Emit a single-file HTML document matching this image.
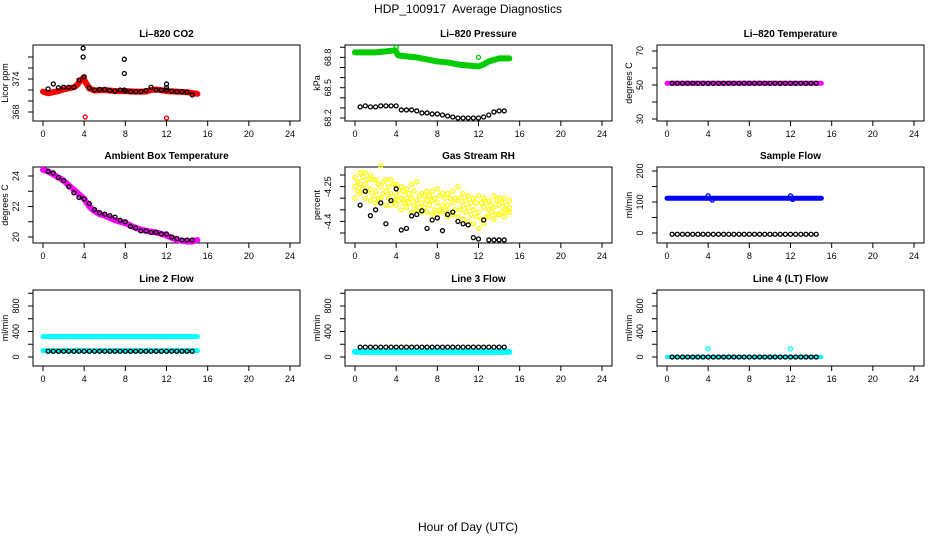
<!DOCTYPE html>
<html><head><meta charset="utf-8"><style>
body{margin:0;background:#fff}
svg{display:block;font-family:"Liberation Sans",sans-serif}
</style></head><body>
<svg id="c" width="936" height="540" viewBox="0 0 936 540">
<text x="468" y="13" text-anchor="middle" font-size="12" xml:space="preserve" style="white-space:pre">HDP_100917  Average Diagnostics</text>
<text x="468" y="531" text-anchor="middle" font-size="12">Hour of Day (UTC)</text>
</svg>
<script>
const xTicks=[0,4,8,12,16,20,24];
const blkHours=[0.5,1,1.5,2,2.5,3,3.5,4,4.5,5,5.5,6,6.5,7,7.5,8,8.5,9,9.5,10,10.5,11,11.5,12,12.5,13,13.5,14,14.5];
// CO2
const co2LineH=[0,0.5,1,1.5,2,2.5,3,3.3,3.6,3.9,4.2,4.5,5,6,7,8,9,10,10.5,11,12,13,14,15];
const co2LineV=[371.7,371.4,371.6,371.8,372.1,372.3,372.5,372.9,373.6,374.2,373.2,372.3,371.9,372.0,371.8,371.8,371.7,371.7,372.0,372.1,371.8,371.7,371.6,371.3];
const co2Blk=[372.2,373.1,372.4,372.5,372.5,372.5,373.8,374.4,372.4,372.0,372.1,372.1,371.9,371.8,372.0,371.8,371.7,371.7,371.7,371.9,372.5,372.0,372.0,372.0,371.8,371.7,371.7,371.6,371.1];
const co2OutH=[3.9,3.9,7.9,7.9,7.9,12,12];
const co2OutV=[379.6,378.0,377.6,375.0,372.0,373.1,372.4];
const co2RedOutH=[4.1,12.0];
const co2RedOutV=[367.1,366.9];
// Pressure
const pLineH=[0,1,2,3,3.9,4.2,5,6,7,8,9,10,11,12,12.5,13,14,15];
const pLineV=[68.85,68.85,68.85,68.86,68.87,68.82,68.81,68.80,68.78,68.76,68.75,68.73,68.72,68.71,68.73,68.76,68.79,68.79];
const pOutH=[4.0,12.0];const pOutV=[68.90,68.80];
const pBlk=[68.31,68.32,68.31,68.31,68.32,68.32,68.32,68.32,68.28,68.28,68.28,68.27,68.25,68.25,68.24,68.24,68.23,68.22,68.21,68.20,68.20,68.20,68.20,68.20,68.21,68.23,68.26,68.27,68.27];
// Li-820 temperature
const tLineH=[0,15];const tLineV=[51,51];
const tBlk=[51,51,51,51,51,51,51,51,51,51,51,51,51,51,51,51,51,51,51,51,51,51,51,51,51,51,51,51,51];
// Ambient
const aLineH=[0,0.5,1,2,3,4,4.5,5,5.5,6,7,8,9,10,11,12,13,14,14.5,15];
const aLineV=[24.4,24.3,24.1,23.7,23.1,22.5,22.0,21.7,21.5,21.4,21.1,20.9,20.6,20.4,20.3,20.1,19.8,19.7,19.7,19.8];
const aBlk=[24.3,24.2,23.9,23.7,23.3,22.9,22.6,22.5,22.2,21.8,21.6,21.5,21.4,21.3,21.1,21.0,20.7,20.6,20.4,20.4,20.3,20.3,20.2,20.2,20.0,19.9,19.8,19.8,19.8];
// RH
const rhYH=[0,0.5,1,1.5,2,2.5,3,3.5,4,4.5,5,5.5,6,6.5,7,7.5,8,8.5,9,9.5,10,10.5,11,11.5,12,12.5,13,13.5,14,14.5,15];
const rhYHigh=[-4.21,-4.19,-4.19,-4.20,-4.22,-4.16,-4.22,-4.22,-4.24,-4.25,-4.26,-4.24,-4.23,-4.28,-4.27,-4.27,-4.26,-4.28,-4.28,-4.27,-4.25,-4.28,-4.29,-4.30,-4.29,-4.30,-4.31,-4.29,-4.30,-4.30,-4.31];
const rhYMid=[-4.25,-4.24,-4.24,-4.26,-4.27,-4.25,-4.27,-4.28,-4.29,-4.30,-4.30,-4.30,-4.31,-4.32,-4.31,-4.31,-4.32,-4.33,-4.33,-4.32,-4.31,-4.33,-4.34,-4.35,-4.36,-4.34,-4.35,-4.34,-4.33,-4.35,-4.34];
const rhYLow=[-4.30,-4.28,-4.30,-4.31,-4.32,-4.30,-4.33,-4.33,-4.33,-4.35,-4.34,-4.36,-4.35,-4.36,-4.36,-4.37,-4.37,-4.36,-4.38,-4.37,-4.38,-4.39,-4.40,-4.41,-4.43,-4.41,-4.38,-4.39,-4.37,-4.38,-4.36];
const rhYH2=[0.25,0.75,1.25,1.75,2.25,2.75,3.25,3.75,4.25,4.75,5.25,5.75,6.25,6.75,7.25,7.75,8.25,8.75,9.25,9.75,10.25,10.75,11.25,11.75,12.25,12.75,13.25,13.75,14.25,14.75];
const rhYA=[-4.23,-4.21,-4.22,-4.22,-4.24,-4.23,-4.25,-4.24,-4.27,-4.27,-4.28,-4.27,-4.29,-4.29,-4.29,-4.30,-4.29,-4.30,-4.30,-4.30,-4.30,-4.31,-4.32,-4.32,-4.32,-4.32,-4.33,-4.31,-4.32,-4.33];
const rhYB=[-4.27,-4.26,-4.27,-4.29,-4.30,-4.28,-4.30,-4.31,-4.31,-4.32,-4.32,-4.33,-4.34,-4.34,-4.33,-4.35,-4.35,-4.35,-4.36,-4.35,-4.35,-4.36,-4.37,-4.38,-4.39,-4.38,-4.36,-4.37,-4.36,-4.36];
const rhBlk=[-4.33,-4.27,-4.375,-4.35,-4.32,-4.41,-4.31,-4.26,-4.437,-4.43,-4.376,-4.37,-4.354,-4.43,-4.394,-4.385,-4.44,-4.37,-4.36,-4.40,-4.41,-4.415,-4.47,-4.476,-4.394,-4.48,-4.48,-4.48,-4.48];
// Sample flow
const sLineH=[0,15];const sLineV=[112,112];
const sOutH=[4,4.4,12,12.2];const sOutV=[120,106,120,108];
const sBlk=[-4,-4,-4,-4,-4,-4,-4,-4,-4,-4,-4,-4,-4,-4,-4,-4,-4,-4,-4,-4,-4,-4,-4,-4,-4,-4,-4,-4,-4];
// Line 2
const l2HighV=[320,320];const l2LowV=[100,100];const lH=[0,15];
const l2Blk=[90,90,90,90,90,90,90,90,90,90,90,90,90,90,90,90,90,90,90,90,90,90,90,90,90,90,90,90,90];
// Line 3
const l3V=[80,80];
const l3Blk=[155,155,155,155,155,155,155,155,155,155,155,155,155,155,155,155,155,155,155,155,155,155,155,155,155,155,155,155,155];
// Line 4
const l4V=[0,0];const l4OutH=[4,12];const l4OutV=[130,130];
const l4Blk=[0,0,0,0,0,0,0,0,0,0,0,0,0,0,0,0,0,0,0,0,0,0,0,0,0,0,0,0,0];

const svg=document.getElementById('c');
const NS='http://www.w3.org/2000/svg';
function mk(tag,attrs,parent){const e=document.createElementNS(NS,tag);for(const k in attrs)e.setAttribute(k,attrs[k]);(parent||svg).appendChild(e);return e;}
const colL=[33,345,657],rowT=[45,167,290],W=267,H=76;

function panel(ci,ri,title,ylab,y0,v0,y1,v1,ticks,labels,name){
  const L=colL[ci],T=rowT[ri];
  const g=mk('g',{});
  
  
  const xs=h=>L+10+h*247/24;
  const ys=v=>y0+(v-v0)*(y1-y0)/(v1-v0);
  const t=mk('text',{x:L+W/2,y:T-8,'text-anchor':'middle','font-size':'10','font-weight':'bold'},g);t.textContent=title;
  
  const b=mk('rect',{x:L,y:T,width:W,height:H,fill:'none',stroke:'#000','stroke-width':'1'},g);
  
  xTicks.forEach(h=>{const x=xs(h);mk('line',{x1:x,y1:T+H,x2:x,y2:T+H+5,stroke:'#000'},g);
    const tx=mk('text',{x:x,y:T+H+16,'text-anchor':'middle','font-size':'9'},g);tx.textContent=h;
    });
  ticks.forEach(v=>{const y=ys(v);mk('line',{x1:L-5,y1:y,x2:L,y2:y,stroke:'#000'},g);});
  labels.forEach(v=>{const y=ys(v);const tx=mk('text',{x:0,y:0,'text-anchor':'middle','font-size':'9',transform:`translate(${L-14},${y}) rotate(-90)`},g);tx.textContent=v;
    });
  const yl=mk('text',{x:0,y:0,'text-anchor':'middle','font-size':'9',transform:`translate(${L-25},${T+H/2}) rotate(-90)`},g);yl.textContent=ylab;
  
  return {g,xs,ys};
}
function line(p,hs,vs,col,w){const pts=hs.map((h,i)=>p.xs(h)+','+p.ys(vs[i])).join(' ');
  const e=mk('polyline',{points:pts,fill:'none',stroke:col,'stroke-width':w,'stroke-linecap':'round','stroke-linejoin':'round'},p.g);
  }
function pts(p,hs,vs,col,r){hs.forEach((h,i)=>{const e=mk('circle',{cx:p.xs(h),cy:p.ys(vs[i]),r:r||2,fill:'none',stroke:col,'stroke-width':'1.3'},p.g);
  });}

let p;
p=panel(0,0,'Li\u2013820 CO2','Licor ppm',112,368,79,374,[368,370,372,374,376,378],[368,374],'panel-co2');
line(p,co2LineH,co2LineV,'#f00',6);pts(p,co2RedOutH,co2RedOutV,'#f00');pts(p,blkHours,co2Blk,'#000');pts(p,co2OutH,co2OutV,'#000');

p=panel(1,0,'Li\u2013820 Pressure','kPa',118,68.2,57.4,68.8,[68.2,68.3,68.4,68.5,68.6,68.7,68.8,68.9],[68.2,68.5,68.8],'panel-pressure');
line(p,pLineH,pLineV,'#0c0',6);pts(p,pOutH,pOutV,'#0c0');pts(p,blkHours,pBlk,'#000');

p=panel(2,0,'Li\u2013820 Temperature','degrees C',119,30,51,70,[30,40,50,60,70],[30,50,70],'panel-li820-temp');
line(p,tLineH,tLineV,'#f0f',5);pts(p,blkHours,tBlk,'#000');

p=panel(0,1,'Ambient Box Temperature','degrees C',237,20,176,24,[20,21,22,23,24],[20,22,24],'panel-ambient-temp');
line(p,aLineH,aLineV,'#f0f',6);pts(p,blkHours,aBlk,'#000');

p=panel(1,1,'Gas Stream RH','percent',175,-4.20,233,-4.45,[-4.20,-4.25,-4.30,-4.35,-4.40,-4.45],[-4.25,-4.40],'panel-gas-rh');
pts(p,rhYH,rhYHigh,'#ff0',2);pts(p,rhYH,rhYMid,'#ff0',2);pts(p,rhYH,rhYLow,'#ff0',2);
pts(p,rhYH2,rhYA,'#ff0',2);pts(p,rhYH2,rhYB,'#ff0',2);
pts(p,blkHours,rhBlk,'#000');

p=panel(2,1,'Sample Flow','ml/min',233,0,171,200,[0,50,100,150,200],[0,100,200],'panel-sample-flow');
line(p,sLineH,sLineV,'#00f',5);pts(p,sOutH,sOutV,'#00f');pts(p,blkHours,sBlk,'#000');

const fT=[0,200,400,600,800,1000],fL=[0,400,800];
p=panel(0,2,'Line 2 Flow','ml/min',357,0,306,800,fT,fL,'panel-line2-flow');
line(p,lH,l2HighV,'#0ff',5);line(p,lH,l2LowV,'#0ff',5);pts(p,blkHours,l2Blk,'#000');

p=panel(1,2,'Line 3 Flow','ml/min',357,0,306,800,fT,fL,'panel-line3-flow');
line(p,lH,l3V,'#0ff',6);pts(p,blkHours,l3Blk,'#000');

p=panel(2,2,'Line 4 (LT) Flow','ml/min',357,0,306,800,fT,fL,'panel-line4-flow');
line(p,lH,l4V,'#0ff',4);pts(p,l4OutH,l4OutV,'#0ff');pts(p,blkHours,l4Blk,'#000');
</script>
</body></html>
